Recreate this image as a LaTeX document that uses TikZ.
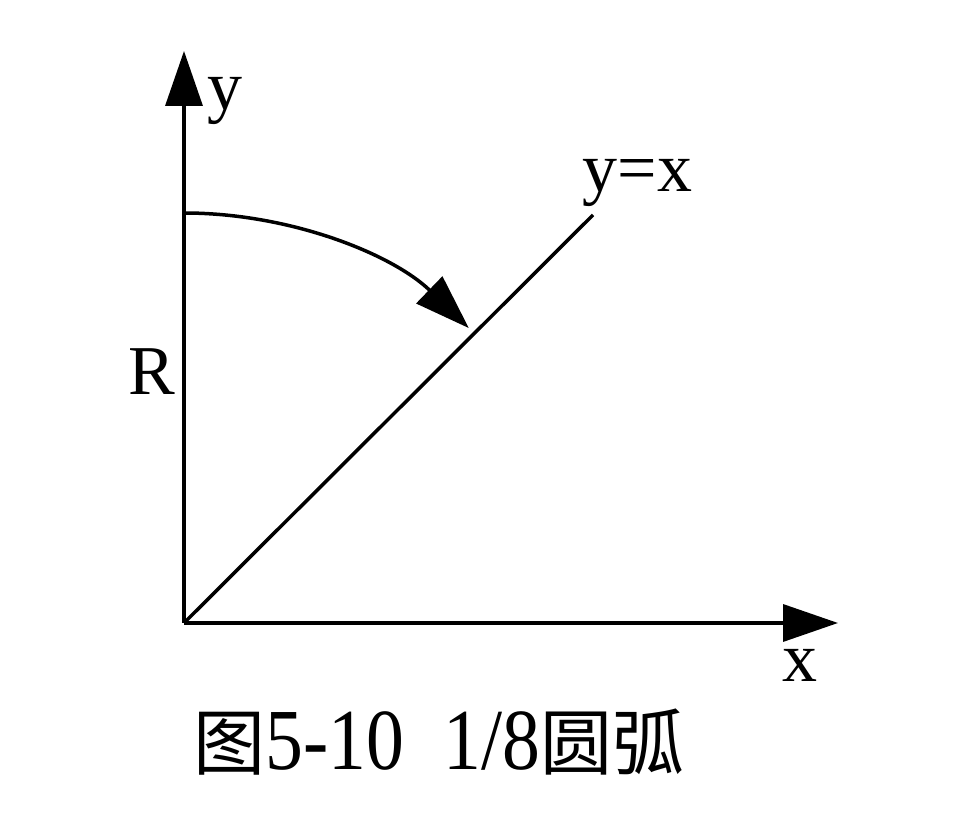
\documentclass[tikz,border=0pt]{standalone}
\usepackage{fontspec}
\newfontfamily\lblfont{LiberationSerif}[Extension=.ttf, UprightFont=*-Regular]
\newfontfamily\cjk{Noto Sans CJK SC}
\newfontfamily\capfont{LiberationSerif}[Extension=.ttf, UprightFont=*-Regular, FakeStretch=0.87]
\usetikzlibrary{arrows.meta}

\begin{document}
\begin{tikzpicture}[x=1pt, y=1pt, line width=3.5pt,
		axis/.style={-{Triangle[length=55pt,width=37pt]}},
		lbl/.style={font=\lblfont\fontsize{70pt}{80pt}\selectfont, inner sep=0pt, anchor=base west}]
		\useasboundingbox (0,0) rectangle (966,834);
		% Coordinates
		\coordinate (O) at (184, 211);
		\coordinate (Y) at (184, 783);
		\coordinate (X) at (838, 211);
		\coordinate (D) at (593, 619);
		\coordinate (A) at (184, 621);
		
		% Draw X and Y axes
		\draw [axis] (O) -- (Y);
		\draw [axis] (O) -- (X);
		
		% Line y=x
		\draw (O) -- (D);
		
		% Arc of radius R
		\draw [axis] (A) arc[start angle=90, end angle=46, radius=410];
		
		% Labels
		\node[lbl] (ylab) at (206, 724) {y};
		\node[lbl] (xlab) at (781, 152) {x};
		\node[lbl] (Rlab) at (127, 439) {R};
		\node[lbl] (dlab) at (581, 642) {y=x};
		
		% Caption
		\node[anchor=base, inner sep=0pt] (cap) at (439, 64)
			{\capfont\fontsize{87pt}{90pt}\selectfont{\cjk\fontsize{72pt}{80pt}\selectfont 图}5-10\hspace{40pt}1/8{\cjk\fontsize{72pt}{80pt}\selectfont 圆弧}};
	\end{tikzpicture}
\end{document}
